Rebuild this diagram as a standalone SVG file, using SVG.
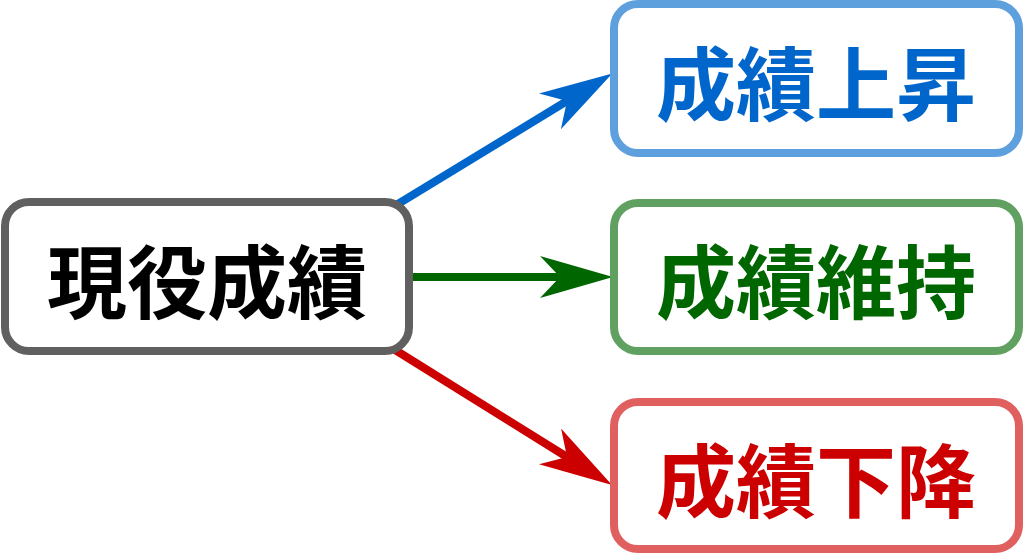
<svg xmlns="http://www.w3.org/2000/svg" width="1024" height="555" viewBox="0 0 1024 555">
  <style>
    .box { fill: #ffffff; stroke-width: 8; }
    .lbl { font-family: "Noto Sans CJK JP", "Noto Sans CJK SC", sans-serif; font-weight: bold; font-size: 80px; text-anchor: middle; dominant-baseline: central; }
    .conn { stroke-width: 8; fill: none; }
  </style>
  <defs>
    <marker id="ahBlue" markerUnits="userSpaceOnUse" viewBox="0 0 73 42" markerWidth="73" markerHeight="42" refX="20" refY="21" orient="auto">
      <path d="M0,0 L73,21 L0,42 L20,21 Z" fill="#0066cc"/>
    </marker>
    <marker id="ahGreen" markerUnits="userSpaceOnUse" viewBox="0 0 73 42" markerWidth="73" markerHeight="42" refX="20" refY="21" orient="auto">
      <path d="M0,0 L73,21 L0,42 L20,21 Z" fill="#006600"/>
    </marker>
    <marker id="ahRed" markerUnits="userSpaceOnUse" viewBox="0 0 73 42" markerWidth="73" markerHeight="42" refX="20" refY="21" orient="auto">
      <path d="M0,0 L73,21 L0,42 L20,21 Z" fill="#cc0000"/>
    </marker>
  </defs>
  <rect width="1024" height="555" fill="#ffffff"/>
  <g id="connectors">
    <line class="conn" x1="393" y1="207" x2="567" y2="101" stroke="#0066cc" marker-end="url(#ahBlue)"/>
    <line class="conn" x1="413" y1="277" x2="560" y2="277" stroke="#006600" marker-end="url(#ahGreen)"/>
    <line class="conn" x1="392" y1="348" x2="567" y2="457" stroke="#cc0000" marker-end="url(#ahRed)"/>
  </g>
  <g id="node-current">
    <rect class="box" x="5" y="202" width="404" height="149" rx="24" stroke="#606060"/>
    <text class="lbl" x="207" y="277" fill="#000000">現役成績</text>
  </g>
  <g id="node-up">
    <rect class="box" x="614" y="4" width="405" height="149" rx="24" stroke="#5e9fdd"/>
    <text class="lbl" x="816" y="79" fill="#0066cc">成績上昇</text>
  </g>
  <g id="node-keep">
    <rect class="box" x="614" y="203" width="405" height="148" rx="24" stroke="#60a060"/>
    <text class="lbl" x="816" y="277" fill="#006600">成績維持</text>
  </g>
  <g id="node-down">
    <rect class="box" x="614" y="402" width="405" height="147" rx="24" stroke="#e06060"/>
    <text class="lbl" x="816" y="476" fill="#cc0000">成績下降</text>
  </g>
</svg>
